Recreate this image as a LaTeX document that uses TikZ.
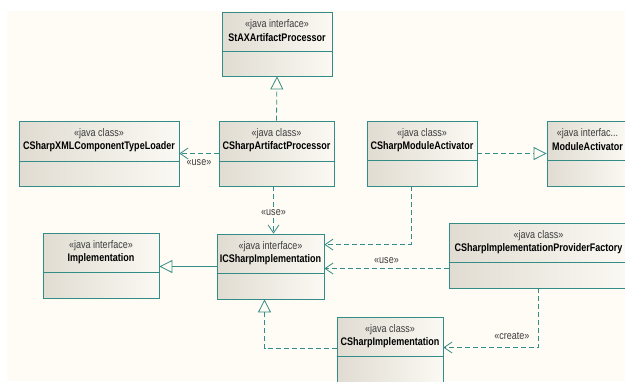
\documentclass[tikz,border=0pt]{standalone}
\usepackage{fontspec}
\setmainfont{Liberation Sans}
\usepackage{tikz}
\usetikzlibrary{arrows.meta,positioning,fit,calc}
\definecolor{umlline}{RGB}{52,140,134}
\definecolor{bgcream}{RGB}{255,252,245}
\definecolor{boxdark}{RGB}{224,220,210}
\definecolor{boxlight}{RGB}{251,249,243}
\definecolor{txtgray}{RGB}{60,60,60}
\newcommand{\narrow}[1]{\scalebox{0.82}[1]{#1}}
\newcommand{\trunc}{...}

\begin{document}
\begin{tikzpicture}[x=1pt,y=-1pt,font=\fontsize{11}{12}\selectfont]
\tikzset{cls/.style={draw=umlline,line width=0.8pt,inner sep=0pt,left color=boxdark,right color=boxlight},
  stereo/.style={text=txtgray,inner sep=0pt},
  cname/.style={font=\fontsize{11}{12}\selectfont\bfseries,inner sep=0pt},
  lbl/.style={text=txtgray,inner sep=2pt},
  dep/.style={draw=umlline,line width=0.8pt,dash pattern=on 5pt off 3pt,-{Straight Barb[length=8pt,width=11pt]}},
  real/.style={draw=umlline,line width=0.8pt,dash pattern=on 5pt off 3pt,-{Triangle[open,length=13pt,width=13pt]}},
  gen/.style={draw=umlline,line width=0.8pt,-{Triangle[open,length=13pt,width=13pt]}}}
\clip (0,0) rectangle (625,381);
\fill[white] (0,0) rectangle (625,381);
\fill[bgcream] (7,11) rectangle (625,381);
% class boxes
\foreach \id/\xa/\ya/\xb/\yb/\yd/\st/\ti in {
  stax/222/12/332/76/51/«java interface»/StAXArtifactProcessor,
  loader/19/121/179/186/161/«java class»/CSharpXMLComponentTypeLoader,
  artp/219/121/334/186/161/«java class»/CSharpArtifactProcessor,
  act/367/121/477/186/160/«java class»/CSharpModuleActivator,
  modact/547/121/628/186/160/«java interfac\trunc/ModuleActivator,
  impl/43/233/159/298/272/«java interface»/Implementation,
  icsi/217/234/324/299/273/«java interface»/ICSharpImplementation,
  fact/449/223/628/288/262/«java class»/CSharpImplementationProviderFactory,
  csimpl/337/317/443/382/356/«java class»/CSharpImplementation}{
  \node[cls,fit={(\xa,\ya)(\xb,\yb)}] (\id) {};
  \draw[umlline,line width=0.8pt] (\xa,\yd) -- (\xb,\yd);
  \node[stereo] at ({(\xa+\xb)/2},\ya+13) {\narrow{\st}};
  \node[cname] at ({(\xa+\xb)/2},\ya+26) {\narrow{\ti}};
}
% relations
\draw[real] (artp.north) -- (stax.south);
\draw[dep] (artp.west) -- (loader.east) node[lbl,below=4pt,midway]{\narrow{«use»}};
\draw[dep] ($(artp.south)+(-3,0)$) -- ($(artp.south|-icsi.north)+(-3,0)$)
  node[lbl,fill=bgcream,inner sep=1pt,pos=0.56]{\narrow{«use»}};
\draw[real] (act.east) -- (modact.west);
\draw[dep] ($(act.south)+(-11,0)$) |- ($(icsi.north east)+(0,11)$);
\draw[dep] ($(fact.west|-icsi.east)+(0,2)$) -- ($(icsi.east)+(0,2)$)
  node[lbl,above=2pt,midway]{\narrow{«use»}};
\draw[dep] (fact.south) |- ($(csimpl.east)+(0,-2)$) node[lbl,above=5pt,pos=0.64]{\narrow{«create»}};
\draw[gen] (icsi.west) -- (icsi.west-|impl.east);
\draw[real] ($(csimpl.west)+(0,-1)$) -| ($(icsi.south)+(-6,0)$);
\end{tikzpicture}
\end{document}
